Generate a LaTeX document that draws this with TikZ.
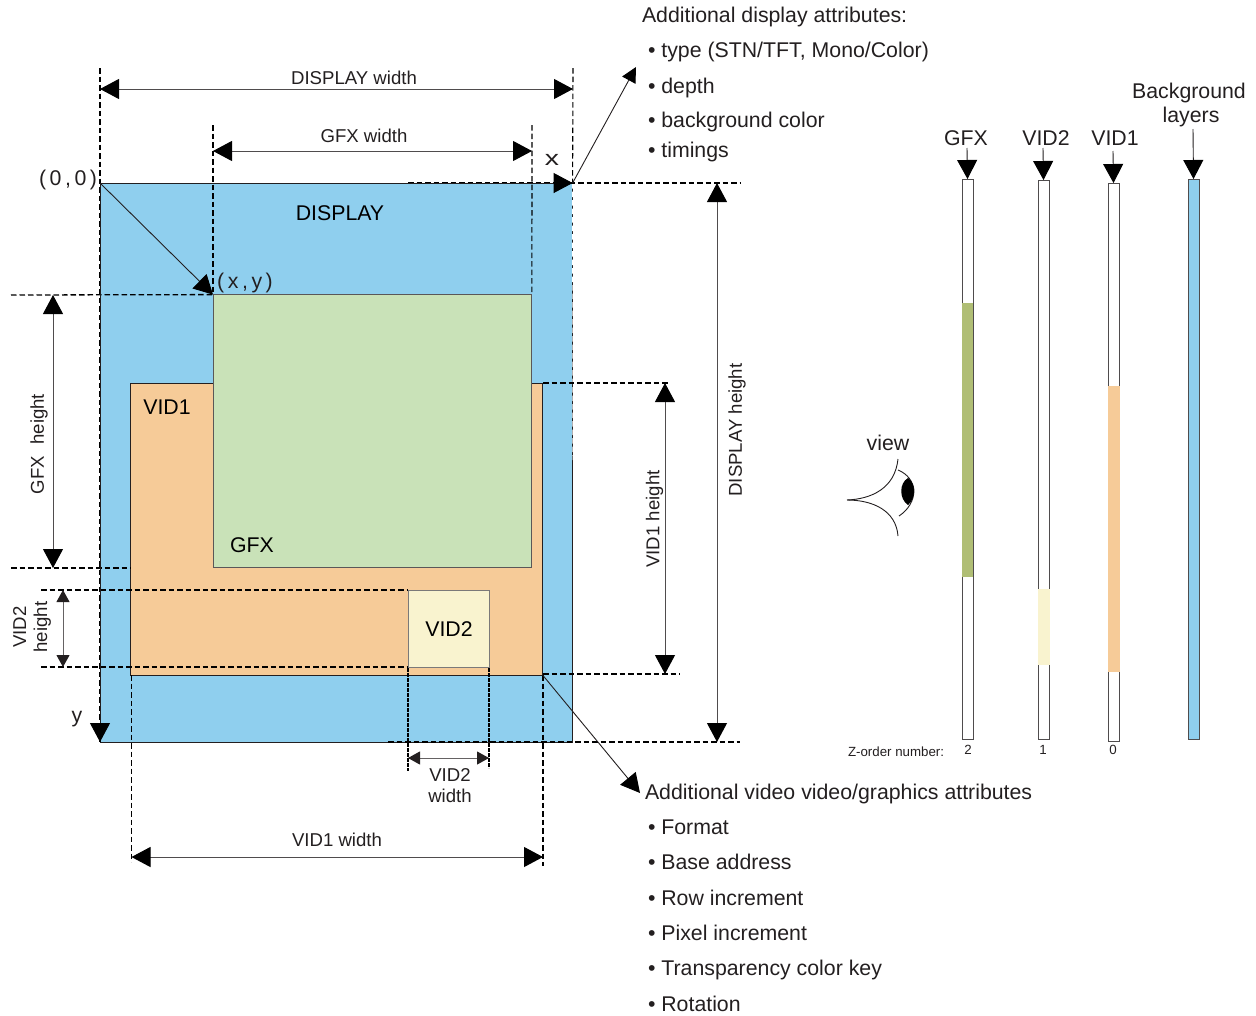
\documentclass[tikz,border=0pt]{standalone}
\usepackage{fontspec}
\setmainfont{Liberation Sans}
\usetikzlibrary{arrows.meta}
\definecolor{dispblue}{HTML}{8FCFEE}
\definecolor{gfxgreen}{HTML}{C9E2B8}
\definecolor{vidorange}{HTML}{F6CB98}
\definecolor{vidyellow}{HTML}{F9F3CF}
\definecolor{olive}{HTML}{B0BE75}
\definecolor{ink}{HTML}{231F20}
\newcommand{\boxnode}[6]{\node[#6, minimum width={(#4)-(#2)}, minimum height={(#5)-(#3)}] (#1) at ({((#2)+(#4))/2},{((#3)+(#5))/2}) {};}
\tikzset{
  x=1pt,y=-1pt,
  every node/.style={inner sep=0pt,outer sep=0pt,text=ink},
  area/.style={draw=ink,line width=0.9pt},
  layer/.style={draw=ink!80,line width=1pt,fill=white},
  band/.style={},
  dashln/.style={draw=black,line width=1.3pt,dash pattern=on 5.5pt off 3pt},
  dotln/.style={draw=black,line width=1.9pt,dash pattern=on 4pt off 1pt},
  bigtip/.tip={Triangle[length=19pt,width=20pt,color=black,fill=black]},
  smalltip/.tip={Triangle[length=12pt,width=13pt,color=ink,fill=ink]},
  big/.style={-bigtip,draw=ink,line width=0.9pt},
  bigboth/.style={bigtip-bigtip,draw=ink!80,line width=1pt},
  smallboth/.style={smalltip-smalltip,draw=ink!70,line width=1pt},
  lbl/.style={font=\fontsize{18.6}{21}\selectfont,align=center},
  txt/.style={font=\fontsize{21.3}{24}\selectfont,anchor=west},
  cen/.style={font=\fontsize{21.3}{24}\selectfont,align=center},
}
\begin{document}
\begin{tikzpicture}
\useasboundingbox (0,0) rectangle (1256,1015);
% main areas
\boxnode{disp}{100}{183}{572.6}{742}{area,fill=dispblue}
\boxnode{vidone}{130.6}{383}{542.6}{675}{area,fill=vidorange}
\boxnode{gfx}{213}{294.6}{531.9}{567}{area,draw=ink!75,fill=gfxgreen}
\boxnode{vidtwo}{408}{590}{489.5}{667.8}{area,draw=ink!60,fill=vidyellow}
% layers
\boxnode{lg}{962}{179}{973}{739}{layer}
\boxnode{lgb}{962}{303}{973}{577}{band,fill=olive}
\boxnode{lv}{1038}{180}{1049}{739}{layer}
\boxnode{lvb}{1037.5}{589}{1049.5}{665}{band,fill=vidyellow}
\boxnode{lo}{1108}{183}{1119}{741}{layer}
\boxnode{lob}{1107.5}{386}{1119.5}{672}{band,fill=vidorange}
\boxnode{lb}{1188}{179}{1199}{739}{layer,fill=dispblue}
% free ends of the guide lines
\coordinate (g100t) at (100,68);
\coordinate (g213t) at (213,125);
\coordinate (g532t) at (532,125);
\coordinate (g573t) at (573,68);
\coordinate (h295l) at (11,295);
\coordinate (h568l) at (11,568);
\coordinate (h568r) at (131,568);
\coordinate (h590l) at (41,590);
\coordinate (h667l) at (41,667);
\coordinate (h667r) at (408,667);
\coordinate (h183s) at (408,183);
\coordinate (h183e) at (740,183);
\coordinate (h383s) at (543,383);
\coordinate (h383e) at (668,383);
\coordinate (h674s) at (543,674);
\coordinate (h674e) at (680,674);
\coordinate (h742s) at (388,742);
\coordinate (h742e) at (740,742);
\coordinate (v131e) at (131.5,862);
\coordinate (v131s) at (131.5,675);
\coordinate (v543s) at (543,675);
\coordinate (v543e) at (543,866);
\coordinate (v408e) at (408,771);
\coordinate (v489s) at (489,668);
\coordinate (v489e) at (489,768);
\coordinate (v573m) at (573,460);
% guide lines
\draw[dashln] (g100t) -- (disp.south west);
\draw[dashln] (g213t) -- (gfx.north west);
\draw[dashln,line width=1.1pt] (g532t) -- (gfx.north east);
\draw[dashln,line width=1.1pt] (g573t) -- (disp.north east);
\draw[dashln,draw=white,line width=1pt] (disp.north east) -- (v573m);
\draw[dashln] (h295l) -- (gfx.north west);
\draw[dashln] (h568l) -- (h568r);
\draw[dashln] (h590l) -- (vidtwo.north west);
\draw[dashln] (h667l) -- (h667r);
\draw[dashln] (h183s) -- (h183e);
\draw[dashln] (h383s) -- (h383e);
\draw[dashln] (h674s) -- (h674e);
\draw[dashln] (h742s) -- (h742e);
\draw[dashln,line width=1.1pt] (v131s) -- (v131e);
\draw[dashln,line width=1.1pt] (v543s) -- (v543e);
\draw[dotln] (vidtwo.south west) -- (v408e);
\draw[dotln] (v489s) -- (v489e);
% dimension arrows
\coordinate (dwl) at (100,89); \coordinate (dwr) at (573,89);
\draw[bigboth] (dwl) -- (dwr);
\coordinate (gwl) at (213,151); \coordinate (gwr) at (532,151);
\draw[bigboth] (gwl) -- (gwr);
\coordinate (vwl) at (131.5,857); \coordinate (vwr) at (543,857);
\draw[bigboth] (vwl) -- (vwr);
\coordinate (dht) at (717,183); \coordinate (dhb) at (717,742);
\draw[bigboth] (dht) -- (dhb);
\coordinate (vht) at (665,383); \coordinate (vhb) at (665,674);
\draw[bigboth] (vht) -- (vhb);
\coordinate (ght) at (53,295); \coordinate (ghb) at (53,568);
\draw[bigboth] (ght) -- (ghb);
\coordinate (v2t) at (63,590); \coordinate (v2b) at (63,667);
\draw[smallboth] (v2t) -- (v2b);
\coordinate (v2l) at (408,758); \coordinate (v2r) at (489,758);
\draw[smallboth] (v2l) -- (v2r);
% axis and pointer arrows
\draw[big] (h183s) -- (disp.north east);
\draw[big] (disp.north west) -- (disp.south west);
\draw[big] (disp.north west) -- (gfx.north west);
\coordinate (dattr) at (636,67);
\draw[-{Triangle[length=15pt,width=15pt,color=black,fill=black]},draw=ink,line width=0.9pt] (disp.north east) -- (dattr);
\coordinate (vattr) at (640,793);
\draw[big] (vidone.south east) -- (vattr);
% layer arrows
\coordinate (lgt) at (967,148); \coordinate (lvt) at (1043,148);
\coordinate (lot) at (1113,151); \coordinate (lbt) at (1193,129);
\draw[big] (lgt) -- (lg.north);
\draw[big] (lvt) -- (lv.north);
\draw[big] (lot) -- (lo.north);
\draw[big] (lbt) -- (lb.north);
% eye
\draw[draw=ink,line width=0.9pt] (847,500) .. controls (872,499) and (895,488) .. (898,459);
\draw[draw=ink,line width=0.9pt] (847,500) .. controls (872,500) and (896,510) .. (898,536);
\draw[draw=ink,line width=0.9pt] (898,470) .. controls (908,474) and (913,482) .. (914,490) .. controls (914,501) and (908,510) .. (899,516);
\fill[black] (908,478) .. controls (899,483) and (899,499) .. (908,505) .. controls (916,499) and (916,483) .. (908,478) -- cycle;
% labels on areas
\node[cen,text=black] (tdisp) at (340,213) {DISPLAY};
\node[cen,text=black] (tvidone) at (167,407) {VID1};
\node[cen,text=black] (tgfx) at (252,545) {GFX};
\node[cen,text=black] (tvidtwo) at (449,629) {VID2};
\node[cen] (tview) at (888,443) {view};
\node[cen] (toriginl) at (68,180) {(\,0\,,\,0\,)};
\node[cen] (txy) at (245,283) {(\,x\,,\,y\,)};
\node[cen,font=\fontsize{21}{26}\selectfont,xscale=1.35] (tx) at (552,160) {x};
\node[cen] (ty) at (77,719) {y};
% dimension labels
\node[lbl] (tdw) at (354,78) {DISPLAY width};
\node[lbl] (tgw) at (364,136) {GFX width};
\node[lbl] (tvw) at (337,840) {VID1 width};
\node[lbl] (tv2w) at (450,786) {VID2\\width};
\node[lbl,rotate=90] (tgh) at (39,444) {GFX\,\, height};
\node[lbl,rotate=90] (tdh) at (737,430) {DISPLAY height};
\node[lbl,rotate=90] (tvh) at (654.5,519) {VID1 height};
\node[lbl,rotate=90] (tv2h) at (32,627) {VID2\\height};
% layer heads
\node[cen] (hg) at (966,138) {GFX};
\node[cen] (hv2) at (1046,138) {VID2};
\node[cen] (hv1) at (1115,138) {VID1};
\node[cen] (hbg) at (1189,93) {Background};
\node[cen] (hbg2) at (1191,117) {layers};
% z-order
\node[font=\fontsize{13.3}{14}\selectfont,anchor=west] (zt) at (848,752) {Z-order number:};
\node[font=\fontsize{13.3}{14}\selectfont] (z2) at (968,750) {2};
\node[font=\fontsize{13.3}{14}\selectfont] (z1) at (1043,750) {1};
\node[font=\fontsize{13.3}{14}\selectfont] (z0) at (1113,750) {0};
% display attributes
\node[txt] (da) at (642,17) {Additional display attributes:};
\node[txt] (da1) at (648,52) {• type (STN/TFT, Mono/Color)};
\node[txt] (da2) at (648,88) {• depth};
\node[txt] (da3) at (648,122) {• background color};
\node[txt] (da4) at (648,152) {• timings};
% video attributes
\node[txt] (va) at (645,794) {Additional video video/graphics attributes};
\node[txt] (va1) at (648,827) {• Format};
\node[txt] (va2) at (648,862) {• Base address};
\node[txt] (va3) at (648,898) {• Row increment};
\node[txt] (va4) at (648,933) {• Pixel increment};
\node[txt] (va5) at (648,970) {• Transparency color key};
\node[txt] (va6) at (648,1004) {• Rotation};
\end{tikzpicture}
\end{document}
